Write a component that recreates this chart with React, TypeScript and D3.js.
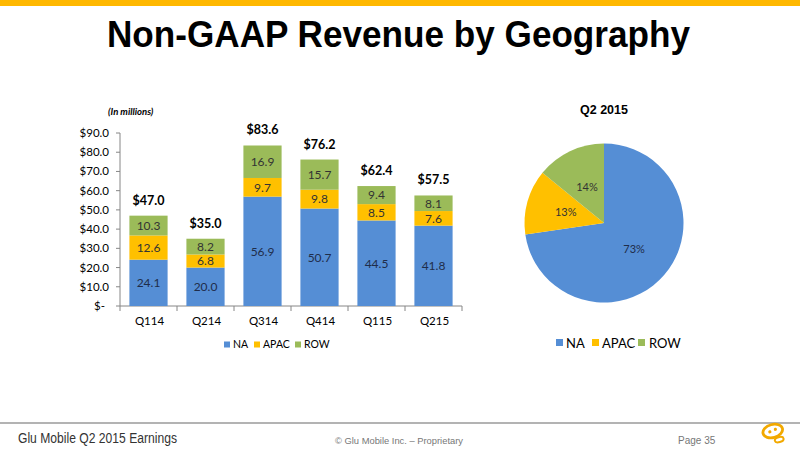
import React from "react";
import * as d3 from "d3";

const categories = ["Q114", "Q214", "Q314", "Q414", "Q115", "Q215"];
const naValues = [24.1, 20.0, 56.9, 50.7, 44.5, 41.8];
const apacValues = [12.6, 6.8, 9.7, 9.8, 8.5, 7.6];
const rowValues = [10.3, 8.2, 16.9, 15.7, 9.4, 8.1];
const totals = [47.0, 35.0, 83.6, 76.2, 62.4, 57.5];
const yTicks = [0, 10, 20, 30, 40, 50, 60, 70, 80, 90];
const seriesNames = ["NA", "APAC", "ROW"];
const pieLabels = ["NA", "APAC", "ROW"];
const pieValues = [41.8, 7.6, 8.1];
const piePercents = ["73%", "13%", "14%"];

const COLORS = ["#558ED5", "#FFC000", "#9BBB59"];
const FONT = "Lato, 'Open Sans', sans-serif";
const ARIAL = "'Liberation Sans', Arial, sans-serif";

export default function App() {
  const W = 800, H = 450;
  const x = d3.scaleBand<string>().domain(categories).range([120, 462]).paddingInner(0.33).paddingOuter(0.165);
  const y = d3.scaleLinear().domain([0, 90]).range([306, 133]);

  const rows = categories.map((c, i) => ({ cat: c, NA: naValues[i], APAC: apacValues[i], ROW: rowValues[i] }));
  const stack = d3.stack<any>().keys(seriesNames)(rows);

  const pie = d3.pie<number>().sort(null).value((d) => d)(pieValues);
  const R = 79.5;
  const arc = d3.arc<any>().innerRadius(0).outerRadius(R);
  const labelArc = d3.arc<any>().innerRadius(R / 2).outerRadius(R / 2);
  const pcx = 604, pcy = 223;

  const step = x.step();
  const tickXs = d3.range(categories.length + 1).map((k) => 120 + k * step);

  const barLegend = [
    { sx: 224, tx: 233 },
    { sx: 254, tx: 263 },
    { sx: 295, tx: 304 },
  ];
  const pieLegend = [
    { sx: 556, tx: 566 },
    { sx: 592, tx: 602 },
    { sx: 638, tx: 649 },
  ];

  return (
    <svg width={W} height={H} style={{ position: "absolute", left: 0, top: 0, background: "#fff" }}>
      <rect x={0} y={0} width={W} height={H} fill="#fff" />
      <rect x={0} y={0} width={W} height={6} fill="#FFB800" />
      <text x={107} y={46.5} fontFamily={ARIAL} fontWeight="bold" fontSize={36} textLength={583} lengthAdjust="spacingAndGlyphs" fill="#000">
        Non-GAAP Revenue by Geography
      </text>

      {/* Bar chart */}
      <text x={108} y={115} fontFamily={FONT} fontWeight="bold" fontStyle="italic" fontSize={9.5} fill="#000">(In millions)</text>
      <line x1={120} x2={120} y1={133} y2={306} stroke="#868686" strokeWidth={1} />
      {yTicks.map((t) => (
        <g key={t}>
          <line x1={116} x2={120} y1={y(t)} y2={y(t)} stroke="#868686" />
          <text x={t === 0 ? 105 : 109} y={y(t)} dy="0.35em" textAnchor="end" fontFamily={FONT} fontSize={11.5} fill="#000">
            {t === 0 ? "$-" : `$${t.toFixed(1)}`}
          </text>
        </g>
      ))}
      <line x1={120} x2={462} y1={306} y2={306} stroke="#868686" />
      {tickXs.map((tx, i) => (
        <line key={i} x1={tx} x2={tx} y1={306} y2={311} stroke="#868686" />
      ))}
      {stack.map((s, si) => (
        <g key={s.key}>
          {s.map((d: any, i: number) => {
            const bx = x(categories[i])!;
            const bw = x.bandwidth();
            const y0 = y(d[0]), y1 = y(d[1]);
            const val = d[1] - d[0];
            return (
              <g key={i}>
                <rect x={bx} y={y1} width={bw} height={y0 - y1} fill={COLORS[si]} />
                <text x={bx + bw / 2} y={(y0 + y1) / 2} dy="0.36em" textAnchor="middle" fontFamily={FONT} fontSize={12} fill={si === 0 ? "#1F2D4A" : "#333333"}>
                  {val.toFixed(1)}
                </text>
              </g>
            );
          })}
        </g>
      ))}
      {totals.map((t, i) => (
        <text key={i} x={x(categories[i])! + x.bandwidth() / 2} y={y(t) - 11} textAnchor="middle" fontFamily={FONT} fontWeight="bold" fontSize={12.5} fill="#000">
          {`$${t.toFixed(1)}`}
        </text>
      ))}
      {categories.map((c) => (
        <text key={c} x={x(c)! + x.bandwidth() / 2 + 1} y={325} textAnchor="middle" fontFamily={FONT} fontSize={11.5} fill="#000">{c}</text>
      ))}
      {seriesNames.map((n, i) => (
        <g key={n}>
          <rect x={barLegend[i].sx} y={341.5} width={6} height={6} fill={COLORS[i]} />
          <text x={barLegend[i].tx} y={348} fontFamily={FONT} fontSize={10.5} fill="#000">{n}</text>
        </g>
      ))}

      {/* Pie chart */}
      <text x={pcx} y={114} textAnchor="middle" fontFamily={ARIAL} fontWeight="bold" fontSize={12.5} fill="#000">Q2 2015</text>
      <g transform={`translate(${pcx},${pcy})`}>
        {pie.map((p, i) => (
          <path key={i} d={arc(p)!} fill={COLORS[i]} />
        ))}
        {pie.map((p, i) => {
          const [lx, ly] = labelArc.centroid(p);
          return (
            <text key={i} x={lx} y={ly} dy="0.35em" textAnchor="middle" fontFamily={FONT} fontSize={11} fill={i === 0 ? "#1F2D4A" : "#333333"}>
              {piePercents[i]}
            </text>
          );
        })}
      </g>
      {pieLabels.map((n, i) => (
        <g key={n}>
          <rect x={pieLegend[i].sx} y={339} width={7} height={7} fill={COLORS[i]} />
          <text x={pieLegend[i].tx} y={347.5} fontFamily={FONT} fontSize={13} fill="#000">{n}</text>
        </g>
      ))}

      {/* Footer */}
      <line x1={0} x2={800} y1={423} y2={423} stroke="#9a9a9a" strokeWidth={1.5} />
      <text x={18} y={442.5} fontFamily={ARIAL} fontSize={14} textLength={159} lengthAdjust="spacingAndGlyphs" fill="#333">Glu Mobile Q2 2015 Earnings</text>
      <text x={335} y={444} fontFamily={ARIAL} fontSize={9.5} textLength={128} lengthAdjust="spacingAndGlyphs" fill="#777">© Glu Mobile Inc. – Proprietary</text>
      <text x={678} y={444} fontFamily={ARIAL} fontSize={10} fill="#777">Page 35</text>
      <g transform="translate(773,432) rotate(-15)">
        <ellipse cx={0} cy={-1} rx={10} ry={6.5} fill="none" stroke="#F2A900" strokeWidth={2.8} />
        <circle cx={-3} cy={-1} r={1.6} fill="#F2A900" />
        <circle cx={3} cy={-2} r={1.6} fill="#F2A900" />
        <ellipse cx={4} cy={9} rx={4.5} ry={2.5} fill="none" stroke="#F2A900" strokeWidth={2} />
      </g>
    </svg>
  );
}
